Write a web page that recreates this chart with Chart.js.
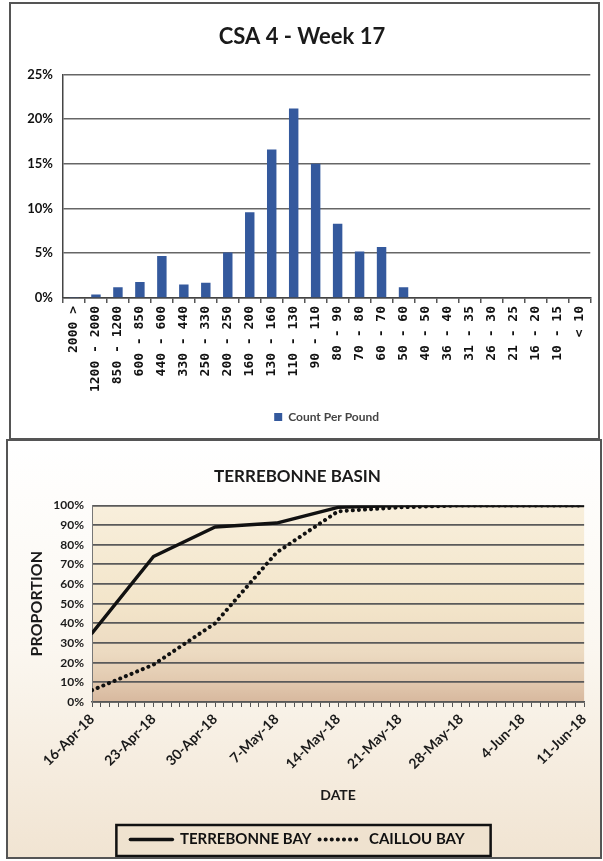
<!DOCTYPE html>
<html>
<head>
<meta charset="utf-8">
<script src="https://cdn.jsdelivr.net/npm/chart.js@4.4.1/dist/chart.umd.min.js"></script>
<style>
  body { margin: 0; background: #fff; width: 603px; height: 861px; overflow: hidden; position: relative; }
  .box { position: absolute; border: 2px solid #555; }
  #topBox { left: 9px; top: 2px; width: 587px; height: 434px; background: #fff; }
  #botBox { left: 6px; top: 439px; width: 592px; height: 416px; }
  canvas { display: block; }
</style>
</head>
<body>
<div class="box" id="topBox"><canvas id="sizeChart" width="587" height="434"></canvas></div>
<div class="box" id="botBox"><canvas id="basinChart" width="592" height="416"></canvas></div>
<script>
// count per pound distribution (percent)
const sizeClasses = ['2000 >', '1200 - 2000', '850 - 1200', '600 - 850', '440 - 600', '330 - 440',
  '250 - 330', '200 - 250', '160 - 200', '130 - 160', '110 - 130', '90 - 110', '80 - 90', '70 - 80',
  '60 - 70', '50 - 60', '40 - 50', '36 - 40', '31 - 35', '26 - 30', '21 - 25', '16 - 20', '10 - 15', '< 10'];
const countPerPound = [0.1, 0.4, 1.2, 1.8, 4.7, 1.5, 1.7, 5.1, 9.6, 16.6, 21.2, 15.0, 8.3, 5.2,
  5.7, 1.2, 0, 0, 0, 0, 0, 0, 0, 0];

// cumulative proportion by week (percent)
const weekLabels = ['16-Apr-18', '23-Apr-18', '30-Apr-18', '7-May-18', '14-May-18', '21-May-18',
  '28-May-18', '4-Jun-18', '11-Jun-18'];
const dayOffsets = [0, 7, 14, 21, 28, 35, 42, 49, 56];
const terrebonneBay = [35, 74, 89, 91, 99, 100, 100, 100, 100];
const caillouBay = [6, 19, 40, 76, 97, 99, 100, 100, 100];

const LATO = "Lato, 'DejaVu Sans', sans-serif";
const txt = '#1a1a1a';

new Chart(document.getElementById('sizeChart'), {
    type: 'bar',
    data: {
        labels: sizeClasses,
        datasets: [{
            label: 'Count Per Pound',
            data: countPerPound,
            backgroundColor: '#34599d',
            borderWidth: 0,
            barPercentage: 0.43,
            categoryPercentage: 1.0
        }]
    },
    options: {
        responsive: false,
        animation: false,
        layout: { padding: { left: 0, right: 5, top: 0, bottom: 5 } },
        plugins: {
            title: {
                display: true,
                text: 'CSA 4 - Week 17',
                color: txt,
                font: { family: LATO, weight: 'bold', size: 22 },
                padding: { top: 20, bottom: 24 }
            },
            legend: {
                position: 'bottom',
                fullSize: false,
                labels: {
                    boxWidth: 8,
                    boxHeight: 8,
                    padding: 10,
                    color: '#444',
                    font: { family: LATO, weight: 'bold', size: 12 }
                }
            },
            tooltip: { enabled: false }
        },
        scales: {
            x: {
                grid: { drawOnChartArea: false, tickLength: 5, color: '#555', lineWidth: 1.5 },
                border: { color: '#444', width: 1.5 },
                ticks: {
                    autoSkip: false,
                    minRotation: 90,
                    maxRotation: 90,
                    padding: 3,
                    color: '#111',
                    font: { family: "'DejaVu Sans Mono', monospace", weight: 'bold', size: 13 }
                },
                afterFit: s => { s.height = 103; }
            },
            y: {
                min: 0,
                max: 25,
                grid: { color: '#666', lineWidth: 1.6, drawTicks: false },
                border: { color: '#444', width: 1.5 },
                ticks: {
                    stepSize: 5,
                    padding: 10,
                    color: '#111',
                    font: { family: LATO, weight: 'bold', size: 13 },
                    callback: v => v + '%'
                },
                afterFit: s => { s.width = 52; }
            }
        }
    }
});

const basinBackground = {
    id: 'basinBackground',
    beforeDraw(chart) {
        const { ctx, chartArea, width, height, legend } = chart;
        ctx.save();
        const bg = ctx.createLinearGradient(0, 0, 0, height);
        bg.addColorStop(0, '#ffffff');
        bg.addColorStop(0.5, '#fbf7f0');
        bg.addColorStop(1, '#f1e4d2');
        ctx.fillStyle = bg;
        ctx.fillRect(0, 0, width, height);

        const pa = ctx.createLinearGradient(0, chartArea.top, 0, chartArea.bottom);
        pa.addColorStop(0, '#f8efdc');
        pa.addColorStop(0.5, '#f3e5ca');
        pa.addColorStop(0.75, '#ecdac1');
        pa.addColorStop(0.88, '#e3cbb1');
        pa.addColorStop(1, '#d7b89e');
        ctx.fillStyle = pa;
        ctx.fillRect(chartArea.left, chartArea.top, chartArea.right - chartArea.left, chartArea.bottom - chartArea.top);

        // framed legend
        const hb = legend.legendHitBoxes;
        if (hb && hb.length) {
            const l = Math.min(...hb.map(h => h.left)) - 14;
            const r = Math.max(...hb.map(h => h.left + h.width)) + 26;
            const t = legend.top + 1;
            const b = legend.bottom - 1;
            ctx.fillStyle = '#efe2cf';
            ctx.fillRect(l, t, r - l, b - t);
            ctx.strokeStyle = '#111';
            ctx.lineWidth = 2.5;
            ctx.strokeRect(l, t, r - l, b - t);
        }
        ctx.restore();
    }
};

const baseLabels = Chart.defaults.plugins.legend.labels.generateLabels;

new Chart(document.getElementById('basinChart'), {
    type: 'line',
    data: {
        datasets: [
            {
                label: 'TERREBONNE BAY',
                data: dayOffsets.map((d, i) => ({ x: d, y: terrebonneBay[i] })),
                borderColor: '#111',
                borderWidth: 3.5,
                borderCapStyle: 'round',
                borderJoinStyle: 'round',
                pointRadius: 0,
                pointStyle: 'line',
                tension: 0
            },
            {
                label: 'CAILLOU BAY',
                data: dayOffsets.map((d, i) => ({ x: d, y: caillouBay[i] })),
                borderColor: '#111',
                borderWidth: 4,
                borderDash: [0.1, 6],
                borderCapStyle: 'round',
                pointRadius: 0,
                pointStyle: 'line',
                tension: 0
            }
        ]
    },
    options: {
        responsive: false,
        animation: false,
        layout: { padding: { left: 0, right: 13, top: 0, bottom: 0 } },
        plugins: {
            title: {
                display: true,
                text: 'TERREBONNE BASIN',
                color: txt,
                font: { family: LATO, weight: 'bold', size: 17 },
                padding: { top: 25, bottom: 19 }
            },
            legend: {
                position: 'bottom',
                labels: {
                    usePointStyle: true,
                    pointStyle: 'line',
                    pointStyleWidth: 42,
                    padding: 8,
                    color: '#111',
                    font: { family: LATO, weight: 'bold', size: 15 },
                    generateLabels: chart => baseLabels(chart).map(item => {
                        const ds = chart.data.datasets[item.datasetIndex];
                        return { ...item, lineDash: ds.borderDash || [], lineCap: ds.borderCapStyle,
                                 lineWidth: ds.borderWidth, strokeStyle: ds.borderColor };
                    })
                }
            },
            tooltip: { enabled: false }
        },
        scales: {
            x: {
                type: 'linear',
                min: 0,
                max: 56,
                grid: { drawOnChartArea: false, tickLength: 5, color: '#555', lineWidth: 1 },
                border: { color: '#555', width: 1.5 },
                ticks: {
                    stepSize: 1,
                    maxTicksLimit: 100,
                    autoSkip: false,
                    minRotation: 45,
                    maxRotation: 45,
                    padding: 4,
                    color: txt,
                    font: { family: LATO, weight: 'bold', size: 14 },
                    callback: v => (v % 7 === 0 ? weekLabels[v / 7] : '')
                },
                title: {
                    display: true,
                    text: 'DATE',
                    color: txt,
                    font: { family: LATO, weight: 'bold', size: 14 },
                    padding: { top: 0, bottom: 20 }
                },
                afterFit: s => { s.height = 122; }
            },
            y: {
                min: 0,
                max: 100,
                grid: { color: '#5a5a5a', lineWidth: 1.8, drawTicks: false },
                border: { color: '#777', width: 1 },
                ticks: {
                    stepSize: 10,
                    padding: 8,
                    color: txt,
                    font: { family: LATO, weight: 'bold', size: 12 },
                    callback: v => v + '%'
                },
                title: {
                    display: true,
                    text: 'PROPORTION',
                    color: txt,
                    font: { family: LATO, weight: 'bold', size: 16 },
                    padding: { top: 19, bottom: 0 }
                },
                afterFit: s => { s.width = 84; }
            }
        }
    },
    plugins: [basinBackground]
});
</script>
</body>
</html>
